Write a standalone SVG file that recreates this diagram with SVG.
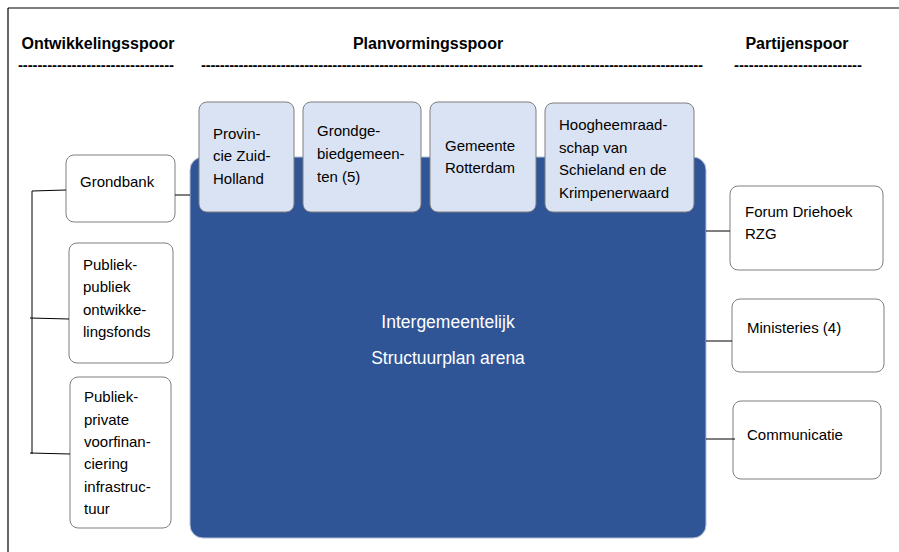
<svg xmlns="http://www.w3.org/2000/svg" width="899" height="552" viewBox="0 0 899 552">
<style>
  text { font-family: "Liberation Sans", Arial, sans-serif; fill: #000; }
  .hdr { font-size: 16px; font-weight: bold; text-anchor: middle; }
  .dash { font-size: 15px; font-weight: bold; }
  .t { font-size: 15px; }
  .box { fill: #fff; stroke: #7f7f7f; stroke-width: 1; }
  .tab { fill: #dae3f3; stroke: #7f7f7f; stroke-width: 1; }
  .arena { fill: #2f5597; stroke: #b4c0d6; stroke-width: 1; }
  .at { font-size: 17.5px; fill: #fff; text-anchor: middle; }
  .conn line { stroke: #000; stroke-width: 1; }
</style>
<rect width="899" height="552" fill="#fff"/>
<g id="frame" stroke="#000" stroke-width="1.2">
  <line x1="8" y1="8" x2="899" y2="8"/>
  <line x1="8" y1="8" x2="8" y2="552"/>
</g>
<g id="headers">
  <text class="hdr" x="98" y="49">Ontwikkelingsspoor</text>
  <text class="hdr" x="428" y="49">Planvormingsspoor</text>
  <text class="hdr" x="797" y="49">Partijenspoor</text>
  <text class="dash" x="18" y="70" textLength="156" lengthAdjust="spacing">--------------------------------</text>
  <text class="dash" x="201" y="70" textLength="502" lengthAdjust="spacing">-----------------------------------------------------------------------------------------------------------</text>
  <text class="dash" x="734" y="70" textLength="128" lengthAdjust="spacing">--------------------------</text>
</g>
<g id="arena">
  <rect class="arena" x="190" y="157" width="516" height="381" rx="13"/>
  <text class="at" x="448" y="328">Intergemeentelijk</text>
  <text class="at" x="448" y="364">Structuurplan arena</text>
</g>
<g id="provincie">
  <rect class="tab" x="199" y="102" width="95" height="110" rx="8"/>
  <text class="t" x="213" y="139">Provin-</text>
  <text class="t" x="213" y="161">cie Zuid-</text>
  <text class="t" x="213" y="184">Holland</text>
</g>
<g id="grondgebied">
  <rect class="tab" x="303" y="102" width="118" height="110" rx="8"/>
  <text class="t" x="317" y="136">Grondge-</text>
  <text class="t" x="317" y="159">biedgemeen-</text>
  <text class="t" x="317" y="182">ten (5)</text>
</g>
<g id="rotterdam">
  <rect class="tab" x="430" y="102" width="106" height="110" rx="8"/>
  <text class="t" x="445" y="151">Gemeente</text>
  <text class="t" x="445" y="173">Rotterdam</text>
</g>
<g id="hoogheemraadschap">
  <rect class="tab" x="545" y="103" width="149" height="109" rx="8"/>
  <text class="t" x="559" y="130">Hoogheemraad-</text>
  <text class="t" x="559" y="153">schap van</text>
  <text class="t" x="559" y="175">Schieland en de</text>
  <text class="t" x="559" y="198">Krimpenerwaard</text>
</g>
<g id="grondbank">
  <rect class="box" x="66" y="155" width="109" height="67" rx="8"/>
  <text class="t" x="80" y="187">Grondbank</text>
</g>
<g id="ppof">
  <rect class="box" x="69" y="243" width="104" height="120" rx="8"/>
  <text class="t" x="83" y="270">Publiek-</text>
  <text class="t" x="83" y="292">publiek</text>
  <text class="t" x="83" y="315">ontwikke-</text>
  <text class="t" x="83" y="337">lingsfonds</text>
</g>
<g id="ppvi">
  <rect class="box" x="70" y="377" width="101" height="151" rx="8"/>
  <text class="t" x="84" y="402">Publiek-</text>
  <text class="t" x="84" y="425">private</text>
  <text class="t" x="84" y="447">voorfinan-</text>
  <text class="t" x="84" y="469">ciering</text>
  <text class="t" x="84" y="492">infrastruc-</text>
  <text class="t" x="84" y="514">tuur</text>
</g>
<g id="forum">
  <rect class="box" x="730" y="186" width="153" height="84" rx="8"/>
  <text class="t" x="745" y="217">Forum Driehoek</text>
  <text class="t" x="745" y="239">RZG</text>
</g>
<g id="ministeries">
  <rect class="box" x="732" y="299" width="152" height="73" rx="8"/>
  <text class="t" x="747" y="333">Ministeries (4)</text>
</g>
<g id="communicatie">
  <rect class="box" x="733" y="401" width="148" height="78" rx="8"/>
  <text class="t" x="747" y="440">Communicatie</text>
</g>
<g id="connectors" class="conn">
  <line x1="32" y1="191" x2="32" y2="454"/>
  <line x1="32" y1="191" x2="66" y2="190"/>
  <line x1="30" y1="318" x2="69" y2="319"/>
  <line x1="30" y1="453" x2="70" y2="454"/>
  <line x1="175" y1="195" x2="190" y2="195"/>
  <line x1="706" y1="231" x2="730" y2="231"/>
  <line x1="706" y1="341" x2="732" y2="341"/>
  <line x1="706" y1="439" x2="735" y2="439"/>
</g>
</svg>
